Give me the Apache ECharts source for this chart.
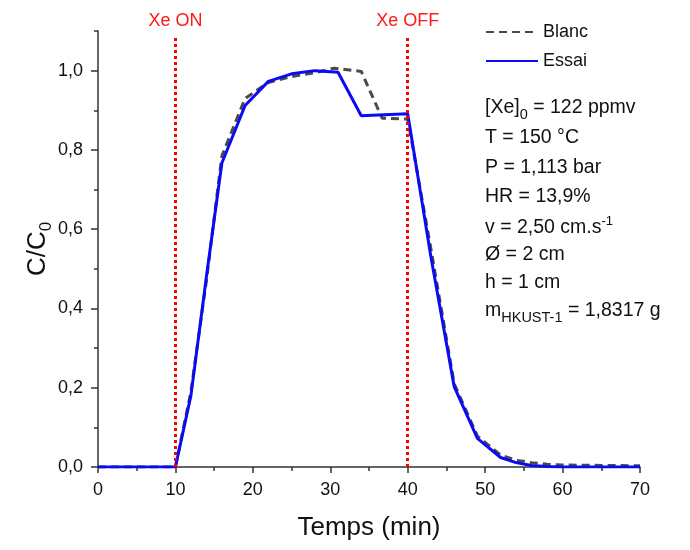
<!DOCTYPE html>
<html>
<head>
<meta charset="utf-8">
<script src="https://cdn.jsdelivr.net/npm/echarts@6/dist/echarts.min.js"></script>
<style>html,body{margin:0;padding:0;background:#fff;}#c{width:690px;height:550px;}</style>
</head>
<body>
<div id="c"></div>
<script>
// ---- data ----
const blancTime = [0, 10, 12, 14, 16, 19, 22, 25, 28, 30.5, 34, 36.7, 40, 43, 46, 49, 52, 54, 56, 58, 60, 65, 70];
const blancValue = [0, 0, 0.19, 0.47, 0.785, 0.93, 0.97, 0.985, 0.995, 1.006, 0.998, 0.88, 0.878, 0.55, 0.21, 0.078, 0.03, 0.017, 0.011, 0.007, 0.005, 0.004, 0.003];
const essaiTime = [0, 10, 12, 14, 16, 19, 22, 25, 28, 31, 34, 40, 43, 46, 49, 52, 54, 56, 58, 60, 65, 70];
const essaiValue = [0, 0, 0.18, 0.48, 0.767, 0.912, 0.973, 0.992, 1.0, 0.996, 0.886, 0.891, 0.53, 0.203, 0.072, 0.024, 0.011, 0.004, 0.001, 0, 0, 0];
const seriesNames = ['Blanc', 'Essai'];
const eventTimes = [10, 40];
const eventLabels = ['Xe ON', 'Xe OFF'];
const xTicks = [0, 10, 20, 30, 40, 50, 60, 70];
const yTicks = [0, 0.2, 0.4, 0.6, 0.8, 1.0];
const infoLines = [
  '{n|[Xe]}{s|0}{n| = 122 ppmv}',
  '{n|T = 150 °C}',
  '{n|P = 1,113 bar}',
  '{n|HR = 13,9%}',
  '{n|v = 2,50 cm.s}{p|-1}',
  '{n|Ø = 2 cm}',
  '{n|h = 1 cm}',
  '{n|m}{s|HKUST-1}{n| = 1,8317 g}'
];

const FONT = '"Liberation Sans", Arial, sans-serif';
const pair = (xs, ys) => xs.map((x, i) => [x, ys[i]]);
const infoTop = [98, 128, 158, 187, 215, 245, 273, 301];
const richStyle = {
  n: {fontSize: 19.5, fontFamily: FONT, color: '#111', lineHeight: 28},
  s: {fontSize: 14.5, fontFamily: FONT, color: '#111', verticalAlign: 'bottom'},
  p: {fontSize: 13, fontFamily: FONT, color: '#111', verticalAlign: 'top', padding: [1, 0, 0, 0]}
};

const chart = echarts.init(document.getElementById('c'), null, {renderer: 'canvas'});
chart.setOption({
  animation: false,
  backgroundColor: '#fff',
  grid: {left: 98, right: 50, top: 31, bottom: 83},
  legend: {
    orient: 'vertical', left: 480, top: 18, itemWidth: 52, itemHeight: 14, itemGap: 11,
    itemStyle: {color: 'transparent', borderColor: 'transparent', borderWidth: 0, opacity: 0},
    textStyle: {fontSize: 18, fontFamily: FONT, color: '#111'},
    data: seriesNames
  },
  xAxis: {
    type: 'value', min: 0, max: 70, interval: 10,
    name: 'Temps (min)', nameLocation: 'middle', nameGap: 48, nameMoveOverlap: false,
    nameTextStyle: {fontSize: 26, fontFamily: FONT, color: '#111'},
    axisLine: {lineStyle: {color: '#333', width: 1.5}},
    axisTick: {length: 6, lineStyle: {color: '#333', width: 1.5}},
    minorTick: {show: true, splitNumber: 2, length: 4, lineStyle: {color: '#333', width: 1.5}},
    axisLabel: {fontSize: 18, fontFamily: FONT, color: '#111', margin: 14,
      customValues: xTicks, formatter: v => String(v)},
    splitLine: {show: false}
  },
  yAxis: [{
    type: 'value', min: 0, max: 1.1, interval: 0.2,
    name: '{n|C/C}{s|0}', nameLocation: 'middle', nameGap: 43, nameRotate: 90, nameMoveOverlap: false,
    nameTextStyle: {rich: {
      n: {fontSize: 26, fontFamily: FONT, color: '#111', lineHeight: 34},
      s: {fontSize: 17, fontFamily: FONT, color: '#111', verticalAlign: 'bottom'}
    }},
    axisLine: {show: true, lineStyle: {color: '#333', width: 1.5}},
    axisTick: {show: true, length: 7, customValues: yTicks, lineStyle: {color: '#333', width: 1.5}},
    axisLabel: {fontSize: 18, fontFamily: FONT, color: '#111', margin: 15, customValues: yTicks,
      formatter: v => v.toFixed(1).replace('.', ',')},
    splitLine: {show: false}
  }, {
    type: 'value', min: 0, max: 1.1, interval: 0.1, position: 'left',
    axisLine: {show: false},
    axisTick: {show: true, length: 4, lineStyle: {color: '#333', width: 1.5}},
    axisLabel: {show: false},
    splitLine: {show: false}
  }],
  series: [{
    name: seriesNames[0], type: 'line', symbol: 'none', yAxisIndex: 0,
    data: pair(blancTime, blancValue),
    lineStyle: {color: '#4a4a4a', width: 3, type: [8, 5]},
    itemStyle: {color: '#4a4a4a'}, z: 2
  }, {
    name: seriesNames[1], type: 'line', symbol: 'none', yAxisIndex: 0,
    data: pair(essaiTime, essaiValue),
    lineStyle: {color: '#0a0af5', width: 3},
    itemStyle: {color: '#0a0af5'}, z: 3
  }, {
    name: 'events', type: 'line', data: [], yAxisIndex: 0, z: 4,
    markLine: {
      silent: true, symbol: 'none', animation: false,
      lineStyle: {color: '#ff0000', width: 3, type: [3, 3]},
      label: {show: true, position: 'end', formatter: '{b}', color: '#ff1a1a',
        fontSize: 18, fontFamily: FONT, distance: 7},
      data: eventTimes.map((t, i) => [{coord: [t, 0], name: eventLabels[i]}, {coord: [t, 1.085]}])
    }
  }],
  graphic: infoLines.map((t, i) => ({
    type: 'text', left: 485, top: infoTop[i], silent: true,
    style: {text: t, rich: richStyle, fill: '#111'}
  }))
});
</script>
</body>
</html>
